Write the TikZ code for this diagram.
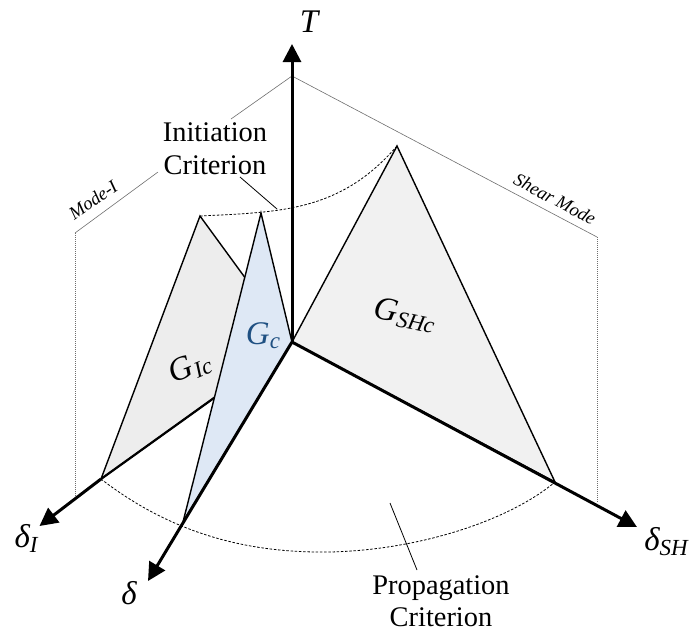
\documentclass[tikz,border=0pt]{standalone}
\usepackage{fontspec}
\setmainfont{Liberation Serif}
\usetikzlibrary{arrows.meta}
\definecolor{gI}{RGB}{237,237,237}
\definecolor{gS}{RGB}{241,241,241}
\definecolor{gB}{RGB}{222,232,245}
\definecolor{tB}{RGB}{31,80,130}
\definecolor{frame}{RGB}{110,110,110}
\newcommand{\subs}[2][-5pt]{\raisebox{#1}{\fontsize{23}{24}\selectfont #2}}
\tikzset{
  axis/.style={line width=3pt,-{Triangle[length=18pt,width=18pt]}},
  thinaxis/.style={line width=2.2pt},
  tri/.style={draw=black,line width=1.4pt,line join=miter},
  frameline/.style={draw=frame,line width=0.6pt},
  framedot/.style={draw=frame,line width=0.7pt,dash pattern=on 1pt off 1pt},
  crit/.style={draw=black,line width=0.8pt,dash pattern=on 2.5pt off 1.7pt},
  lead/.style={draw=black,line width=0.8pt},
  lab/.style={font=\fontsize{28.4}{32.5}\selectfont,align=center,inner sep=0pt},
  sym/.style={font=\fontsize{33}{34}\selectfont\itshape,inner sep=0pt},
  mode/.style={font=\fontsize{18.5}{20}\selectfont\itshape,inner sep=0pt}
}
\begin{document}
\begin{tikzpicture}[x=1pt,y=-1pt]
\useasboundingbox (0,0) rectangle (689,633);
\coordinate (O) at (292,342);
\coordinate (Ttip) at (292,44);
\coordinate (Itip) at (39.5,526);
\coordinate (Dtip) at (148,581);
\coordinate (Stip) at (637,527);
\coordinate (Iapex) at (200,216);
\coordinate (Ifoot) at (101,479);
\coordinate (Bapex) at (261,213);
\coordinate (Bfoot) at (183,522);
\coordinate (Sapex) at (397,146);
\coordinate (Sfoot) at (555,482);
\coordinate (top) at (292,76);
\coordinate (Lc) at (75,233);
\coordinate (Lb) at (75,497);
\coordinate (L1) at (158,172);
\coordinate (L2) at (231,119);
\coordinate (Rc) at (597,237);
\coordinate (Rb) at (597,503);
\coordinate (Ilead0) at (240,177);
\coordinate (Ilead) at (277,209);
\coordinate (Plead) at (417,570);
\coordinate (Plead2) at (390,503);
% frames
\draw[frameline] (top) -- (L2);
\draw[frameline] (L1) -- (Lc);
\draw[framedot] (Lc) -- (Lb);
\draw[frameline] (top) -- (Rc);
\draw[framedot] (Rc) -- (Rb);
% triangles and axes
\draw[tri,fill=gI] (O) -- (Iapex) -- (Ifoot) -- cycle;
\draw[tri,fill=gS] (O) -- (Sapex) -- (Sfoot) -- cycle;
\draw[thinaxis] (O) -- (Ifoot);
\draw[axis] (Ifoot) -- (Itip);
\draw[axis] (O) -- (Stip);
\draw[axis] (O) -- (Ttip);
\draw[tri,fill=gB] (O) -- (Bapex) -- (Bfoot) -- cycle;
\draw[axis] (O) -- (Dtip);
% criteria
\draw[crit] (Iapex) .. controls (280,212) and (340,212) .. (Sapex);
\draw[crit] (Ifoot) .. controls (180,540) and (260,553) .. (330,552) .. controls (420,550) and (510,520) .. (Sfoot);
% labels
\node[lab] (init) at (215,148.5) {Initiation\\Criterion};
\node[lab] (prop) at (441,601) {Propagation\\Criterion};
\draw[lead] (Ilead0) -- (Ilead);
\draw[lead] (Plead2) -- (Plead);
\node[sym] (T) at (309,22) {T};
\node[sym] (dI) at (26,538) {δ\subs{I}};
\node[sym] (d) at (129,593) {δ};
\node[sym] (dS) at (666,542) {δ\subs{SH}};
\node[sym,rotate=-12] (gs) at (405,315) {G\subs[-4pt]{SHc}};
\node[sym,rotate=22] (gi) at (190,368) {G\subs[-4pt]{Ic}};
\node[sym,text=tB] (gc) at (263,336) {G\subs[-4pt]{c}};
\node[mode,rotate=35] (mi) at (93,200) {Mode-I};
\node[mode,rotate=-28] (sm) at (555,199) {Shear Mode};
\end{tikzpicture}
\end{document}
